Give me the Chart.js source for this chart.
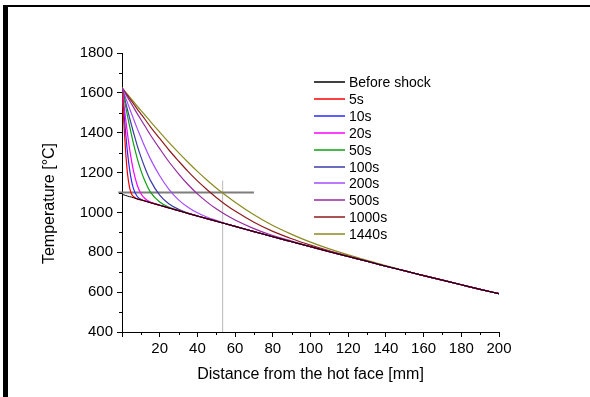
<!DOCTYPE html>
<html>
<head>
<meta charset="utf-8">
<script src="https://cdn.jsdelivr.net/npm/chart.js@4"></script>
<style>
html, body { margin: 0; padding: 0; background: #fff; }
#wrap { position: relative; width: 590px; height: 397px; overflow: hidden; }
canvas { position: absolute; left: 0; top: 0; }
#frameTop { position: absolute; left: 3px; top: 5px; width: 587px; height: 2px; background: #000; }
#frameLeft { position: absolute; left: 3px; top: 5px; width: 5px; height: 392px; background: #000; }
</style>
</head>
<body>
<div id="wrap">
  <canvas id="grafica" width="590" height="397"></canvas>
  <div id="frameTop"></div>
  <div id="frameLeft"></div>
</div>
<script>
// distance from the hot face [mm]
var dist = [0,1,2,3,4,5,6,8,10,12,15,20,25,30,35,40,45,50,55,60,70,80,90,100,110,120,130,140,150,160,170,180,190,200]

// temperature [°C]
var beforeShock = [1090,1088,1085,1082,1079,1077,1074,1068,1063,1058,1049,1036,1022,1009,995,982,969,956,943,930,904,878,853,828,803,779,755,730,707,683,660,637,614,592]
var t5s    = [1610,1445,1295,1188,1126,1094,1080,1068,1063,1058,1049,1036,1022,1009,995,982,969,956,943,930,904,878,853,828,803,779,755,730,707,683,660,637,614,592]
var t10s   = [1615,1504,1391,1294,1217,1161,1122,1081,1066,1058,1050,1036,1022,1009,995,982,969,956,943,930,904,878,853,828,803,779,755,730,707,683,660,637,614,592]
var t20s   = [1620,1543,1463,1388,1320,1262,1212,1139,1095,1071,1052,1037,1022,1009,995,982,969,956,943,930,904,878,853,828,803,779,755,730,707,683,660,637,614,592]
var t50s   = [1620,1576,1528,1480,1434,1391,1349,1274,1211,1161,1103,1052,1026,1010,995,982,969,956,943,930,904,878,853,828,803,779,755,730,707,683,660,637,614,592]
var t100s  = [1620,1588,1549,1512,1475,1439,1405,1338,1280,1228,1162,1087,1042,1016,997,982,969,956,943,930,904,878,853,828,803,779,755,730,707,683,660,637,614,592]
var t200s  = [1620,1600,1573,1548,1522,1497,1472,1423,1377,1332,1270,1184,1115,1063,1026,998,977,960,944,930,904,878,853,828,803,779,755,730,707,683,660,637,614,592]
var t500s  = [1622,1610,1593,1577,1561,1545,1529,1497,1466,1436,1390,1320,1253,1194,1140,1093,1053,1018,988,962,919,884,856,829,803,779,755,730,707,683,660,637,614,592]
var t1000s = [1625,1613,1599,1586,1572,1560,1547,1520,1495,1470,1431,1371,1312,1258,1206,1158,1115,1075,1039,1007,951,905,868,836,807,781,755,730,707,683,660,637,614,592]
var t1440s = [1628,1614,1603,1591,1580,1569,1557,1534,1512,1491,1457,1403,1350,1300,1252,1206,1163,1123,1086,1051,988,934,890,851,817,787,760,733,708,683,660,637,614,592]

var seriesLabels = ['Before shock','5s','10s','20s','50s','100s','200s','500s','1000s','1440s']
var seriesData   = [beforeShock, t5s, t10s, t20s, t50s, t100s, t200s, t500s, t1000s, t1440s]
var seriesColors = ['#000000','#ff0000','#2a2aff','#ff00ff','#10a010','#3c3ca8','#a64dff','#962a9e','#8e1c1c','#8a8a1e']

// guide lines
var limitTemp = 1100
var limitDist = [-2, 70]
var markDist = 53.4
var markTemp = [400, 1160]

var FONT = '"Liberation Sans", Arial, sans-serif'

var minorTicks = {
  id: 'minorTicks',
  afterDraw: function(chart) {
    var ctx = chart.ctx, xs = chart.scales.x, ys = chart.scales.y, a = chart.chartArea
    ctx.save()
    ctx.strokeStyle = '#000'
    ctx.lineWidth = 1
    ctx.beginPath()
    for (var v = 10; v < 200; v += 20) {
      var px = Math.round(xs.getPixelForValue(v)) + 0.5
      ctx.moveTo(px, a.bottom); ctx.lineTo(px, a.bottom + 3)
    }
    for (var w = 500; w < 1800; w += 200) {
      var py = Math.round(ys.getPixelForValue(w)) + 0.5
      ctx.moveTo(a.left, py); ctx.lineTo(a.left - 3, py)
    }
    ctx.stroke()

    // y axis title
    ctx.save()
    ctx.translate(a.left - 72, (a.top + a.bottom) / 2 + 11)
    ctx.rotate(-Math.PI / 2)
    ctx.font = '16px ' + FONT
    ctx.fillStyle = '#000'
    ctx.textAlign = 'center'
    ctx.textBaseline = 'middle'
    ctx.fillText('Temperature [°C]', 0, 0)
    ctx.restore()
    ctx.restore()
  }
}

var legendBox = {
  id: 'legendBox',
  afterDraw: function(chart) {
    var ctx = chart.ctx, a = chart.chartArea
    var x0 = a.left + 192, y0 = a.top + 29
    ctx.save()
    ctx.font = '14px ' + FONT
    ctx.textBaseline = 'middle'
    ctx.textAlign = 'left'
    seriesLabels.forEach(function(lab, i) {
      var y = Math.round(y0 + i * 16.9)
      ctx.strokeStyle = seriesColors[i]
      ctx.lineWidth = 1.5
      ctx.beginPath(); ctx.moveTo(x0, y); ctx.lineTo(x0 + 31, y); ctx.stroke()
      ctx.fillStyle = '#000'
      ctx.fillText(lab, x0 + 35, y + 1)
    })
    ctx.restore()
  }
}

function renderChart() {
  var datasets = seriesData.map(function(arr, i) {
    return {
      label: seriesLabels[i],
      data: dist.map(function(d, k) { return { x: d, y: arr[k] } }),
      borderColor: seriesColors[i],
      borderWidth: i === 0 ? 1 : 1.2,
      pointRadius: 0,
      fill: false,
      cubicInterpolationMode: 'monotone'
    }
  })
  datasets.push({
    label: 'limit',
    data: limitDist.map(function(d) { return { x: d, y: limitTemp } }),
    borderColor: '#7d7d7d',
    borderWidth: 2,
    pointRadius: 0,
    clip: false
  })
  datasets.push({
    label: 'mark',
    data: markTemp.map(function(t) { return { x: markDist, y: t } }),
    borderColor: '#b8b8b8',
    borderWidth: 1,
    pointRadius: 0
  })

  var ctx = document.getElementById('grafica').getContext('2d')
  new Chart(ctx, {
    type: 'line',
    data: { datasets: datasets },
    plugins: [minorTicks, legendBox],
    options: {
      responsive: false,
      animation: false,
      layout: { padding: { left: 40, top: 53, right: 91, bottom: 13 } },
      plugins: { legend: { display: false }, tooltip: { enabled: false } },
      scales: {
        x: {
          type: 'linear', min: 0, max: 200,
          border: { color: '#000', width: 1 },
          grid: { drawOnChartArea: false, tickLength: 5, tickColor: '#000' },
          ticks: {
            stepSize: 20, color: '#000', padding: 3, maxRotation: 0,
            font: { family: FONT, size: 15 },
            callback: function(v) { return v === 0 ? '' : String(v) }
          },
          title: { display: true, text: 'Distance from the hot face [mm]', color: '#000',
                   font: { family: FONT, size: 16 }, padding: { top: 4, bottom: 0 } },
          afterFit: function(s) { s.height = 52 }
        },
        y: {
          type: 'linear', min: 400, max: 1800,
          border: { color: '#000', width: 1 },
          grid: { drawOnChartArea: false, tickLength: 5, tickColor: '#000' },
          ticks: { stepSize: 200, color: '#000', padding: 4, font: { family: FONT, size: 15 },
                   callback: function(v) { return String(v) } },
          title: { display: false },
          afterFit: function(s) { s.width = 82 }
        }
      }
    }
  })
}

renderChart()
</script>
</body>
</html>
